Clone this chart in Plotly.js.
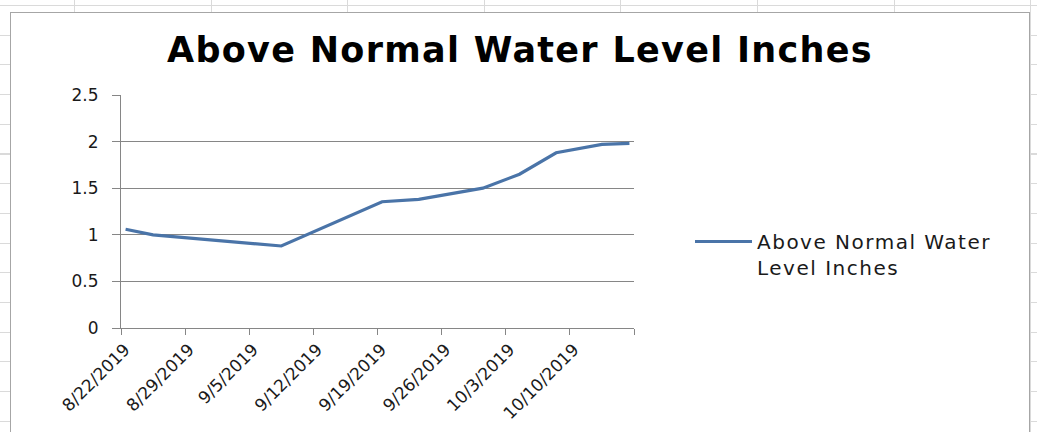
<!DOCTYPE html>
<html>
<head>
<meta charset="utf-8">
<script src="https://cdn.plot.ly/plotly-3.0.1.min.js"></script>
<style>
  html, body { margin: 0; padding: 0; }
  #sheet {
    position: relative; width: 1037px; height: 432px; overflow: hidden;
    background-color: #ffffff;
    background-image:
      repeating-linear-gradient(to bottom, transparent 0px, transparent 5px, #dadada 5px, #dadada 6px, transparent 6px, transparent 29.7px),
      repeating-linear-gradient(to right, transparent 0px, transparent 74px, #dadada 74px, #dadada 75px, transparent 75px, transparent 136.6px);
  }
  #chartbox {
    position: absolute; left: 10px; top: 12px; width: 1018px; height: 440px;
    background: #ffffff; border: 1px solid #a6a6a6; border-bottom: none;
  }
  #chart { position: absolute; left: 0; top: 0; width: 1018px; height: 419px; }
  .gtitle { letter-spacing: 1.3px; }
  .legendtext { letter-spacing: 1.5px; }
</style>
</head>
<body>
<div id="sheet"><div id="chartbox"><div id="chart"></div></div></div>
<script>
// Data
const dates = ['2019-08-22', '2019-08-25', '2019-09-08', '2019-09-19', '2019-09-23',
               '2019-09-30', '2019-10-04', '2019-10-08', '2019-10-13', '2019-10-16'];
const levels = [1.06, 1.00, 0.88, 1.355, 1.38, 1.50, 1.65, 1.88, 1.97, 1.98];
const seriesName = 'Above Normal Water<br>Level Inches';
const chartTitle = 'Above Normal Water Level Inches';
const tickDates = ['2019-08-22', '2019-08-29', '2019-09-05', '2019-09-12', '2019-09-19',
                   '2019-09-26', '2019-10-03', '2019-10-10', '2019-10-17'];
const tickLabels = ['8/22/2019', '8/29/2019', '9/5/2019', '9/12/2019', '9/19/2019',
                    '9/26/2019', '10/3/2019', '10/10/2019', ''];
const yTicks = [0, 0.5, 1, 1.5, 2, 2.5];
const yTickLabels = ['0', '0.5', '1', '1.5', '2', '2.5'];

// Excel date axis: each day is a slot, tick marks sit on slot boundaries
const HALF_DAY = 12 * 3600 * 1000;
const shift = d => new Date(new Date(d + 'T00:00:00Z').getTime() - HALF_DAY).toISOString();
const tickvals = tickDates.map(shift);

const trace = {
  x: dates, y: levels, type: 'scatter', mode: 'lines', name: seriesName,
  line: { color: '#4a74a8', width: 3.2 }
};

const font = 'DejaVu Sans, sans-serif';
const layout = {
  width: 1018, height: 419,
  margin: { l: 110, r: 395, t: 82, b: 104 },
  paper_bgcolor: 'rgba(0,0,0,0)', plot_bgcolor: 'rgba(0,0,0,0)',
  font: { family: font, size: 16, color: '#1a1a1a' },
  title: {
    text: '<b>' + chartTitle + '</b>',
    font: { family: font, size: 35, color: '#000000' },
    x: 0.5, xref: 'container', xanchor: 'center',
    y: 1 - 37 / 419, yref: 'container', yanchor: 'middle'
  },
  xaxis: {
    type: 'date', range: [tickvals[0], tickvals[tickvals.length - 1]],
    tickmode: 'array', tickvals: tickvals, ticktext: tickLabels,
    tickangle: -45, showgrid: false, zeroline: false,
    showline: true, linecolor: '#868686', linewidth: 1,
    ticks: 'outside', ticklen: 6, tickcolor: '#868686',
    ticklabelshift: 4, ticklabelstandoff: -2,
    tickfont: { family: font, size: 17, color: '#1a1a1a' }
  },
  yaxis: {
    range: [0, 2.5], tickmode: 'array', tickvals: yTicks, ticktext: yTickLabels,
    showgrid: true, gridcolor: '#868686', gridwidth: 1, zeroline: false,
    showline: true, linecolor: '#868686', linewidth: 1,
    ticks: 'outside', ticklen: 8, tickcolor: '#868686',
    ticklabelstandoff: 10,
    tickfont: { family: font, size: 17, color: '#1a1a1a' }
  },
  showlegend: true,
  legend: {
    x: (679 - 110) / 513, xanchor: 'left', y: (315 - 209) / 233, yanchor: 'top',
    valign: 'top', itemwidth: 57,
    bgcolor: 'rgba(0,0,0,0)',
    font: { family: font, size: 20, color: '#1a1a1a' }
  }
};

Plotly.newPlot('chart', [trace], layout, { displayModeBar: false, staticPlot: true });
</script>
</body>
</html>
